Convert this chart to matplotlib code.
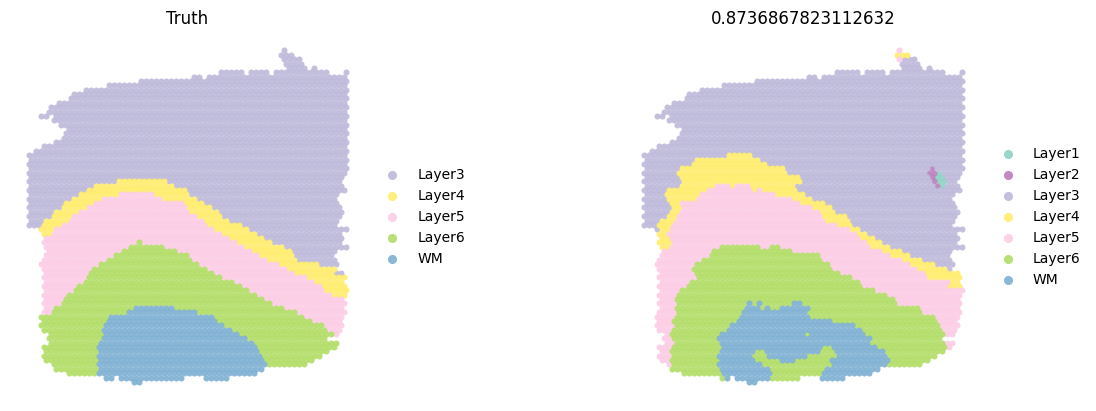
import matplotlib
matplotlib.use('Agg')
import matplotlib.pyplot as plt

# spots of the section, per array row: runs of array columns (start, end)
tissue_rows = [
    [(102, 102)], [(101, 105)], [(102, 108)], [(103, 109)], [(104, 110), (114, 114)],
    [(77, 85), (89, 95), (99, 119), (127, 127)], [(66, 68), (72, 126)], [(45, 127)], [(32, 126)], [(23, 127)],
    [(18, 126)], [(17, 127)], [(12, 126)], [(9, 127)], [(8, 126)],
    [(5, 7), (11, 127)], [(10, 126)], [(13, 127)], [(16, 126)], [(15, 127)],
    [(14, 126)], [(11, 127)], [(6, 126)], [(3, 127)], [(0, 126)],
    [(1, 127)], [(0, 126)], [(1, 127)], [(0, 126)], [(1, 125)],
    [(0, 124)], [(1, 125)], [(0, 126)], [(1, 123)], [(0, 122)],
    [(1, 123)], [(0, 124)], [(1, 125)], [(0, 124)], [(1, 123)],
    [(0, 122)], [(5, 127)], [(6, 124)], [(7, 125)], [(6, 124)],
    [(7, 127)], [(8, 122)], [(7, 121)], [(6, 122)], [(5, 123)],
    [(6, 122)], [(7, 125)], [(6, 126)], [(7, 125)], [(6, 126)],
    [(7, 127)], [(6, 126)], [(7, 125)], [(6, 126)], [(7, 125)],
    [(6, 126)], [(5, 125)], [(6, 124)], [(5, 125)], [(6, 124)],
    [(9, 123)], [(8, 118)], [(9, 123)], [(6, 122)], [(7, 119)],
    [(6, 116)], [(7, 113)], [(10, 110)], [(11, 93)], [(16, 90)],
    [(31, 33), (37, 61), (71, 79)], [(42, 44)],
]

layer_names = ['Layer1', 'Layer2', 'Layer3', 'Layer4', 'Layer5', 'Layer6', 'WM']
layer_colors = ['#8dd3c7', '#bc80bd', '#bebada', '#ffed6f', '#fccde5', '#b3de69', '#80b1d3']

# row -> [(first column, layer number)], rows not listed are all Layer3
truth_breaks = {
    30: [(0, 3), (36, 4), (55, 3)], 31: [(0, 3), (27, 4), (58, 3)], 32: [(0, 3), (24, 4), (63, 3)],
    33: [(0, 3), (21, 4), (36, 5), (50, 4), (64, 3)], 34: [(0, 3), (18, 4), (29, 5), (53, 4), (67, 3)],
    35: [(0, 3), (15, 4), (26, 5), (62, 4), (70, 3)], 36: [(0, 3), (14, 4), (23, 5), (63, 4), (74, 3)],
    37: [(0, 3), (11, 4), (20, 5), (65, 4), (76, 3)], 38: [(0, 3), (10, 4), (17, 5), (67, 4), (78, 3)],
    39: [(0, 3), (7, 4), (16, 5), (70, 4), (81, 3)], 40: [(0, 3), (6, 4), (13, 5), (71, 4), (86, 3)],
    41: [(0, 4), (10, 5), (74, 4), (88, 3)], 42: [(0, 4), (9, 5), (77, 4), (91, 3)],
    43: [(0, 5), (80, 4), (95, 3)], 44: [(0, 5), (44, 6), (45, 5), (83, 4), (98, 3)],
    45: [(0, 5), (41, 6), (54, 5), (87, 4), (102, 3)], 46: [(0, 5), (38, 6), (59, 5), (90, 4), (105, 3)],
    47: [(0, 5), (34, 6), (64, 5), (93, 4), (107, 3)], 48: [(0, 5), (32, 6), (65, 5), (96, 4), (108, 3)],
    49: [(0, 5), (29, 6), (68, 5), (100, 4), (116, 3)], 50: [(0, 5), (26, 6), (71, 5), (103, 4), (123, 3)],
    51: [(0, 5), (25, 6), (74, 5), (107, 4), (122, 3)], 52: [(0, 5), (24, 6), (78, 5), (112, 4)],
    53: [(0, 5), (23, 6), (82, 5), (115, 4)], 54: [(0, 5), (20, 6), (85, 5), (118, 4)],
    55: [(0, 5), (19, 6), (88, 5), (119, 4)], 56: [(0, 5), (16, 6), (91, 5), (122, 4)],
    57: [(0, 5), (15, 6), (94, 5)], 58: [(0, 5), (14, 6), (98, 5)],
    59: [(0, 5), (11, 6), (43, 7), (58, 6), (102, 5)], 60: [(0, 5), (10, 6), (40, 7), (67, 6), (107, 5)],
    61: [(0, 6), (33, 7), (74, 6), (110, 5)], 62: [(0, 6), (32, 7), (75, 6), (113, 5)],
    63: [(0, 6), (31, 7), (78, 6), (118, 5)], 64: [(0, 6), (30, 7), (81, 6), (120, 5)],
    65: [(0, 6), (31, 7), (84, 6), (122, 5)], 66: [(0, 6), (30, 7), (87, 6)],
    67: [(0, 6), (29, 7), (90, 6)], 68: [(0, 6), (28, 7), (91, 6)],
    69: [(0, 6), (29, 7), (92, 6)], 70: [(0, 6), (28, 7), (93, 6)],
    71: [(0, 6), (29, 7), (94, 6)], 72: [(0, 6), (28, 7), (95, 6)],
    73: [(0, 6), (28, 7)], 74: [(0, 6), (27, 7)], 75: [(0, 7)], 76: [(0, 7)],
}

pred_breaks = {
    0: [(0, 5)], 1: [(0, 4)], 2: [(0, 5), (103, 3)],
    24: [(0, 3), (34, 4), (43, 3)], 25: [(0, 3), (21, 4), (46, 3)], 26: [(0, 3), (20, 4), (49, 3)],
    27: [(0, 3), (15, 4), (56, 3), (115, 2), (116, 3)],
    28: [(0, 3), (14, 4), (57, 3), (113, 2), (117, 1), (119, 3)],
    29: [(0, 3), (15, 4), (62, 3), (115, 2), (116, 3), (117, 1), (120, 3)],
    30: [(0, 3), (15, 4), (63, 3), (116, 2), (117, 1), (121, 3)],
    31: [(0, 3), (15, 4), (28, 5), (34, 4), (36, 5), (42, 4), (60, 3), (117, 2), (118, 1), (120, 3)],
    32: [(0, 3), (10, 4), (25, 5), (43, 4), (45, 5), (47, 4), (61, 3)],
    33: [(0, 3), (9, 4), (22, 5), (52, 4), (64, 3)], 34: [(0, 3), (10, 4), (21, 5), (59, 4), (67, 3)],
    35: [(0, 3), (11, 4), (15, 5), (62, 4), (72, 3)], 36: [(0, 3), (12, 4), (16, 5), (67, 4), (75, 3)],
    37: [(0, 3), (11, 4), (15, 5), (70, 4), (76, 3)], 38: [(0, 3), (10, 4), (14, 5), (71, 4), (81, 3)],
    39: [(0, 3), (7, 4), (13, 5), (72, 4), (82, 3)], 40: [(0, 3), (6, 4), (12, 5), (77, 4), (83, 3)],
    41: [(0, 3), (7, 4), (11, 5), (82, 4), (86, 3)], 42: [(0, 4), (10, 5), (85, 4), (89, 3)],
    43: [(0, 4), (11, 5), (86, 4), (92, 3)], 44: [(0, 4), (12, 5), (89, 4), (95, 3)],
    45: [(0, 4), (11, 5), (31, 6), (46, 5), (51, 6), (54, 5), (90, 4), (98, 3)],
    46: [(0, 5), (28, 6), (59, 5), (95, 4), (103, 3)], 47: [(0, 5), (27, 6), (70, 5), (98, 4), (106, 3)],
    48: [(0, 5), (24, 6), (71, 5), (103, 4), (111, 3)], 49: [(0, 5), (21, 6), (74, 5), (106, 4), (116, 3)],
    50: [(0, 5), (20, 6), (76, 5), (109, 4), (122, 3)], 51: [(0, 5), (21, 6), (78, 5), (113, 4)],
    52: [(0, 5), (22, 6), (83, 5), (113, 4)], 53: [(0, 5), (19, 6), (86, 5), (122, 4)],
    54: [(0, 5), (18, 6), (87, 5), (121, 4)], 55: [(0, 5), (15, 6), (93, 5)],
    56: [(0, 5), (14, 6), (97, 5)], 57: [(0, 5), (13, 6), (100, 5)],
    58: [(0, 5), (14, 6), (42, 7), (43, 6), (46, 7), (47, 6), (60, 7), (63, 6), (101, 5)],
    59: [(0, 5), (13, 6), (41, 7), (46, 6), (49, 7), (50, 6), (55, 7), (66, 6), (110, 5)],
    60: [(0, 5), (14, 6), (40, 7), (53, 6), (54, 7), (65, 6), (111, 5)],
    61: [(0, 5), (13, 6), (39, 7), (66, 6), (116, 5)], 62: [(0, 5), (12, 6), (38, 7), (75, 6), (117, 5)],
    63: [(0, 5), (13, 6), (35, 7), (84, 6), (118, 5)], 64: [(0, 5), (12, 6), (34, 7), (87, 6), (119, 5)],
    65: [(0, 5), (11, 6), (31, 7), (65, 6), (66, 7), (88, 6), (120, 5)],
    66: [(0, 5), (12, 6), (30, 7), (91, 6)], 67: [(0, 5), (13, 6), (31, 7), (90, 6), (121, 5)],
    68: [(0, 5), (12, 6), (32, 7), (71, 6), (75, 7), (93, 6), (121, 5)],
    69: [(0, 5), (11, 6), (31, 7), (44, 6), (48, 7), (70, 6), (76, 7), (96, 6)],
    70: [(0, 5), (12, 6), (30, 7), (44, 6), (49, 7), (66, 6), (77, 7), (97, 6)],
    71: [(0, 5), (11, 6), (31, 7), (44, 6), (54, 7), (60, 6), (74, 7), (98, 6)],
    72: [(0, 5), (12, 6), (30, 7), (47, 6), (75, 7), (97, 6)],
    73: [(0, 6), (31, 7), (50, 6), (72, 7)], 74: [(0, 6), (32, 7), (51, 6), (71, 7)],
    75: [(0, 6), (33, 7), (50, 6), (70, 7)], 76: [(0, 7)],
}


def spots_by_layer(breaks):
    spots = {i: ([], []) for i in range(1, 8)}
    for row, runs in enumerate(tissue_rows):
        row_breaks = breaks.get(row, [(0, 3)])
        for start, end in runs:
            for col in range(start, end + 1):
                # hex grid, only every other column exists on a row
                if (col + row) % 2:
                    continue
                layer = [b[1] for b in row_breaks if b[0] <= col][-1]
                spots[layer][0].append(col)
                spots[layer][1].append(row)
    return spots


fig = plt.figure(figsize=(10.96, 4.11), dpi=100)
W, H = 1096, 411

panels = [('Truth', truth_breaks, 12.5), ('0.8736867823112632', pred_breaks, 628.1)]
for title, breaks, left in panels:
    ax = fig.add_axes([left / W, (H - 395) / H, 350 / W, 360 / H])
    spots = spots_by_layer(breaks)
    for i, name in enumerate(layer_names):
        cols, rows = spots[i + 1]
        if cols:
            sc = ax.scatter(cols, rows, s=19, color=layer_colors[i], alpha=0.92, linewidths=0, label=name)
            sc.set_snap(False)
    ax.set_xlim(-6.5, 133.5)
    ax.set_ylim(79, -3.55)
    ax.set_title(title, fontsize=12, pad=8)
    ax.axis('off')
    ax.legend(loc='center left', bbox_to_anchor=(1.01, 0.495), frameon=False, markerscale=1.5, fontsize=10)

plt.savefig('out.png', dpi=100)
